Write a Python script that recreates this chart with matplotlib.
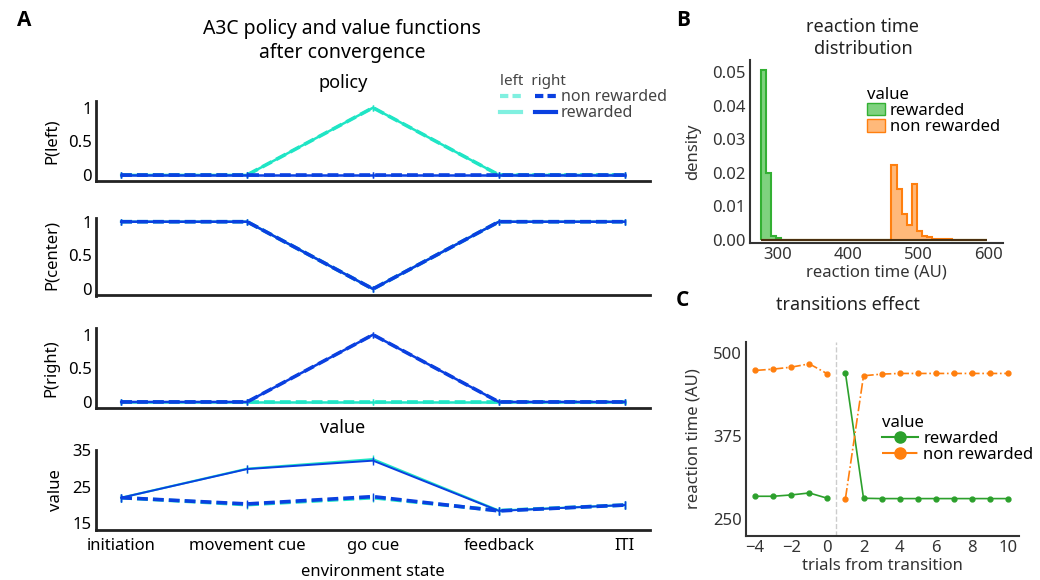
import matplotlib
matplotlib.use("Agg")
import matplotlib.pyplot as plt
from matplotlib.lines import Line2D
from matplotlib.patches import Patch
import numpy as np

plt.rcParams['font.family'] = ['Noto Sans', 'DejaVu Sans']

# panel A data
states = ['initiation', 'movement cue', 'go cue', 'feedback', 'ITI']
p_left_left = [0, 0, 1, 0, 0]
p_left_right = [0, 0, 0, 0, 0]
p_center_left = [1, 1, 0, 1, 1]
p_center_right = [1, 1, 0, 1, 1]
p_right_left = [0, 0, 0, 0, 0]
p_right_right = [0, 0, 1, 0, 0]
value_left_rew = [22.0, 29.9, 32.5, 18.5, 20.0]
value_right_rew = [22.0, 29.8, 32.1, 18.4, 20.0]
value_left_nonrew = [22.0, 20.1, 22.0, 18.5, 20.0]
value_right_nonrew = [22.0, 20.3, 22.3, 18.4, 20.0]

# panel B data (density per bin)
bin_start = 276.0
bin_width = 7.15
green_density = [0.0505, 0.0198, 0.0012, 0.0005] + [0.0] * 41
orange_density = [0.0] * 26 + [0.0222, 0.0153, 0.0077, 0.0045, 0.0168, 0.0028,
                               0.0013, 0.0008, 0.0003, 0.0003, 0.0002, 0.0002] + [0.0] * 7

# panel C data
trials_pre = [-4, -3, -2, -1, 0]
trials_post = [1, 2, 3, 4, 5, 6, 7, 8, 9, 10]
rew_pre = [284, 284, 286, 289, 281]
rew_post = [470, 281, 280.5, 280.5, 280.5, 280.5, 280.5, 280.5, 280.5, 280.5]
nonrew_pre = [474, 476, 479, 484, 469]
nonrew_post = [280.5, 466, 468.5, 469.5, 469.5, 469.5, 469.5, 469.5, 469.5, 469.5]

turq = '#1fe5c5'
blue = '#0a40e0'
green = '#2ca02c'
orange = '#ff7f0e'
dark = '#333333'

fig = plt.figure(figsize=(10.4, 5.8), dpi=100)
W, H = 1040, 580


def ax_px(l, t, r, b):
    return fig.add_axes([l / W, 1 - b / H, (r - l) / W, (b - t) / H])


x = np.arange(len(states))
dash = (0, (3, 1.4))

panels = [
    (101, 181, p_left_left, p_left_left, p_left_right, p_left_right, 'P(left)'),
    (215, 295, p_center_left, p_center_left, p_center_right, p_center_right, 'P(center)'),
    (328, 408, p_right_left, p_right_left, p_right_right, p_right_right, 'P(right)'),
]
axes_a = []
for top, bot, lr, lnr, rr, rnr, lab in panels:
    ax = ax_px(96, top, 650, bot)
    ax.plot(x, lnr, color=turq, lw=2.6, ls=dash, marker='|', ms=4)
    ax.plot(x, lr, color=turq, lw=1.8, marker='|', ms=4)
    ax.plot(x, rnr, color=blue, lw=2.6, ls=dash, marker='|', ms=4)
    ax.plot(x, rr, color=blue, lw=1.8, marker='|', ms=4)
    ax.set_ylim(-0.09, 1.1)
    ax.set_yticks([0, 0.5, 1])
    ax.set_yticklabels(['0', '0.5', '1'])
    ax.set_ylabel(lab, fontsize=12, labelpad=6)
    axes_a.append(ax)

axv = ax_px(96, 450, 650, 530)
axv.plot(x, value_left_nonrew, color=turq, lw=2.6, ls=dash, marker='|', ms=6)
axv.plot(x, value_left_rew, color=turq, lw=1.6, marker='|', ms=6)
axv.plot(x, value_right_nonrew, color=blue, lw=2.6, ls=dash, marker='|', ms=6)
axv.plot(x, value_right_rew, color=blue, lw=1.4, marker='|', ms=6)
axv.set_ylim(13.2, 34.5)
axv.set_yticks([15, 25, 35])
axv.set_ylabel('value', fontsize=12, labelpad=6)
axes_a.append(axv)

for ax in axes_a:
    ax.set_xlim(-0.2, 4.2)
    for s in ['top', 'right']:
        ax.spines[s].set_visible(False)
    for s in ['left', 'bottom']:
        ax.spines[s].set_linewidth(2)
        ax.spines[s].set_color('#222222')
    ax.tick_params(length=0, labelsize=12, pad=3)
    ax.tick_params(axis='x', pad=6)
    ax.set_xticks(x)
    ax.set_xticklabels([])
axv.set_xticklabels(states, fontsize=12)
axv.set_xlabel('environment state', fontsize=12, labelpad=7)
axes_a[1].spines['left'].set_bounds(-0.1, 1.05)

fig.text(342 / W, 1 - 41 / H, 'A3C policy and value functions\nafter convergence',
         ha='center', va='center', fontsize=14, linespacing=1.3)
fig.text(343 / W, 1 - 83 / H, 'policy', ha='center', va='center', fontsize=13)
fig.text(343 / W, 1 - 428 / H, 'value', ha='center', va='center', fontsize=13)

handles = [Line2D([], [], color='#80f0e0', lw=3, ls=(0, (2, 1))),
           Line2D([], [], color='#80f0e0', lw=3),
           Line2D([], [], color=blue, lw=3, ls=(0, (2, 1))),
           Line2D([], [], color=blue, lw=3)]
leg = fig.legend(handles, ['', '', 'non rewarded', 'rewarded'], ncol=2,
                 loc='upper left', bbox_to_anchor=(489 / W, 1 - 63 / H),
                 frameon=False, fontsize=11.5, title='left  right', title_fontsize=11,
                 handlelength=1.3, handletextpad=0.3, columnspacing=0.6,
                 labelspacing=0.0, alignment='left', borderpad=0.2)
for t in leg.get_texts():
    t.set_color('#444444')
leg.get_title().set_color('#444444')

# panel B
axb = ax_px(750, 60, 1003, 243)
edges = bin_start + bin_width * np.arange(len(green_density) + 1)
axb.stairs(green_density, edges, fill=True, color='#7fd27f', lw=0)
axb.stairs(green_density, edges, color='#33b033', lw=1.5)
axb.stairs(orange_density, edges, fill=True, color='#ffb97a', lw=0)
axb.stairs(orange_density, edges, color=orange, lw=1.5)
axb.hlines(0, edges[0], edges[-1], color='#4a3010', lw=1.5)
axb.set_xlim(260, 621)
axb.set_ylim(-0.0009, 0.0536)
axb.set_xticks([300, 400, 500, 600])
axb.set_yticks([0, 0.01, 0.02, 0.03, 0.04, 0.05])
axb.set_yticklabels(['0.00', '0.01', '0.02', '0.03', '0.04', '0.05'])
axb.set_xlabel('reaction time (AU)', fontsize=12, color=dark, labelpad=1)
axb.set_ylabel('density', fontsize=12, color=dark, labelpad=8)
axb.legend([Patch(facecolor='#7fd27f', edgecolor='#33b033'),
            Patch(facecolor='#ffb97a', edgecolor=orange)],
           ['rewarded', 'non rewarded'], title='value', loc='upper left',
           bbox_to_anchor=(855 / W, 1 - 75 / H), bbox_transform=fig.transFigure,
           frameon=False, fontsize=12, title_fontsize=12, alignment='left',
           handlelength=1.1, handleheight=0.8, handletextpad=0.3,
           labelspacing=0.0, borderpad=0.2)
fig.text(863 / W, 1 - 38 / H, 'reaction time\ndistribution', ha='center', va='center',
         fontsize=13, color='#222222', linespacing=1.25)

# panel C
axc = ax_px(746, 342, 1019, 536)
axc.axvline(0.5, color='#cccccc', ls='--', lw=1)
axc.plot(trials_pre, rew_pre, color=green, lw=1.2, marker='o', ms=3.5)
axc.plot(trials_post, rew_post, color=green, lw=1.2, marker='o', ms=3.5)
axc.plot(trials_pre, nonrew_pre, color=orange, lw=1.2, ls='-.', marker='o', ms=3.5)
axc.plot(trials_post, nonrew_post, color=orange, lw=1.2, ls='-.', marker='o', ms=3.5)
axc.set_xlim(-4.5, 10.6)
axc.set_ylim(224, 517)
axc.set_xticks([-4, -2, 0, 2, 4, 6, 8, 10])
axc.set_yticks([250, 375, 500])
axc.set_xlabel('trials from transition', fontsize=12, color=dark, labelpad=1)
axc.set_ylabel('reaction time (AU)', fontsize=12, color=dark, labelpad=8)
axc.legend([Line2D([], [], color=green, lw=1.5, marker='o', ms=8),
            Line2D([], [], color=orange, lw=1.5, ls='-.', marker='o', ms=8)],
           ['rewarded', 'non rewarded'], title='value', loc='upper left',
           bbox_to_anchor=(870 / W, 1 - 403 / H), bbox_transform=fig.transFigure,
           frameon=False, fontsize=12, title_fontsize=12, alignment='left',
           handlelength=2.2, handletextpad=0.3, labelspacing=0.0, borderpad=0.2)
fig.text(848 / W, 1 - 305 / H, 'transitions effect', ha='center', va='center',
         fontsize=13, color='#222222')

for ax in (axb, axc):
    for s in ['top', 'right']:
        ax.spines[s].set_visible(False)
    for s in ['left', 'bottom']:
        ax.spines[s].set_linewidth(1.5)
        ax.spines[s].set_color(dark)
    ax.tick_params(length=0, labelsize=12, pad=3, colors=dark)

for lx, ly, letter in [(17, 20, 'A'), (676, 20, 'B'), (676, 300, 'C')]:
    fig.text(lx / W, 1 - ly / H, letter, fontsize=15, fontweight='bold',
             family=['Open Sans', 'DejaVu Sans'], va='center', ha='left')

fig.savefig('out.png', dpi=100)
